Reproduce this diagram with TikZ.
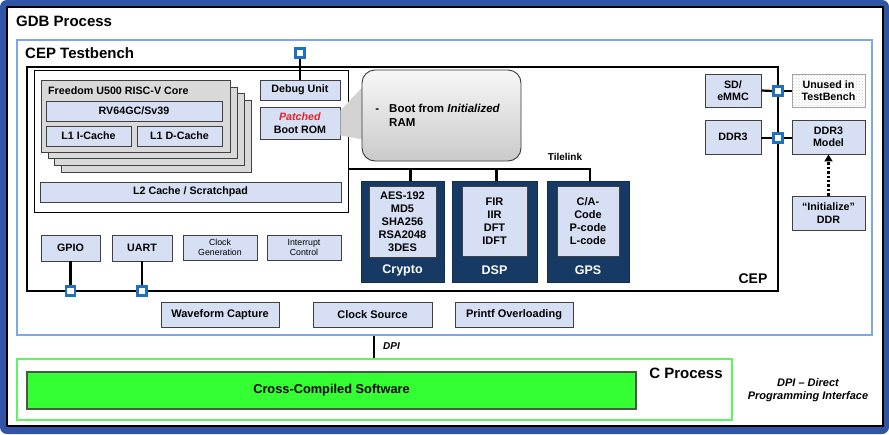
\documentclass[tikz,border=0pt]{standalone}
\usepackage{fontspec}
\setmainfont{Liberation Sans}
\usetikzlibrary{arrows.meta,patterns}
\definecolor{frameblue}{HTML}{2F55A4}
\definecolor{tbblue}{HTML}{7EA6EE}
\definecolor{boxfill}{HTML}{D6DFF3}
\definecolor{boxline}{HTML}{404040}
\definecolor{navy}{HTML}{163A63}
\definecolor{portblue}{HTML}{1F70C1}
\definecolor{cgreen}{HTML}{5EF55E}
\definecolor{swgreen}{HTML}{33FF33}
\definecolor{swline}{HTML}{3F5F3F}
\definecolor{stackfill}{HTML}{D9D9D9}
\definecolor{patchred}{HTML}{E8202A}
\newcommand\bx[7]{\node[#6, minimum width={(#4)-(#2)}, minimum height={(#5)-(#3)}] (#1) at ({((#2)+(#4))/2},{((#3)+(#5))/2}) {#7};}
\begin{document}
\begin{tikzpicture}[x=1pt,y=-1pt,
  fbox/.style={draw=boxline, fill=boxfill, line width=0.9pt, inner sep=1pt, align=center, font=\fontsize{10.7}{12.5}\selectfont\bfseries},
  sbox/.style={fbox, font=\fontsize{8.8}{10.5}\selectfont},
  mbox/.style={fbox, font=\fontsize{11}{12}\selectfont\bfseries},
  ibox/.style={fbox, font=\fontsize{11}{13}\selectfont\bfseries},
  stackbox/.style={draw=boxline, fill=stackfill, line width=0.9pt, inner sep=0pt},
  navybox/.style={fill=navy, draw=navy!80!black, line width=0.8pt, inner sep=0pt},
  navylbl/.style={text=white, font=\fontsize{12.5}{14}\selectfont\bfseries},
  port/.style={draw=portblue, fill=white, line width=2.2pt, minimum size=9pt, inner sep=0pt},
  bus/.style={line width=2.2pt, black},
  title/.style={font=\fontsize{15}{17}\selectfont\bfseries, inner sep=0pt},
  empty/.style={inner sep=0pt}
]
\useasboundingbox (0,0) rectangle (889,434);
% GDB frame
\fill[frameblue, rounded corners=7pt] (0,0) rectangle (889,434);
\bx{gdb}{7}{7}{883}{426}{empty, draw=black, line width=2pt, fill=white}{}
\node[title, anchor=west] (gdbl) at (16,21) {GDB Process};
% Testbench
\bx{tb}{17}{40}{872}{335}{empty, draw=tbblue, line width=2.2pt}{}
\node[title, anchor=west] (tbl) at (25,53) {CEP Testbench};
% CEP
\bx{cep}{27}{67}{778}{291}{empty, draw=black, line width=2.2pt}{}
\node[font=\fontsize{14}{16}\selectfont\bfseries, inner sep=0pt] (cepl) at (753,279) {CEP};
% core complex
\bx{cc}{34}{70}{348}{212}{empty, draw=black, line width=0.8pt, fill=white}{}
\bx{stack3}{61}{100}{251}{172}{stackbox}{}
\bx{stack2}{54}{93}{244}{165}{stackbox}{}
\bx{stack1}{48}{87}{237}{158}{stackbox}{}
\bx{core}{41}{80}{230}{152}{stackbox}{}
\node[anchor=west, font=\fontsize{10.7}{12}\selectfont\bfseries, inner sep=0pt] (corel) at (48,91) {Freedom U500 RISC-V Core};
\bx{rv}{46}{101}{222}{121}{fbox}{RV64GC/Sv39}
\bx{l1i}{46}{126}{131}{146}{fbox}{L1 I-Cache}
\bx{l1d}{137}{126}{222}{146}{fbox}{L1 D-Cache}
\bx{dbg}{260}{80}{340}{100}{fbox}{Debug Unit}
\bx{brom}{260}{107}{340}{139}{fbox}{\textcolor{patchred}{\textit{Patched}}\\Boot ROM}
\bx{l2}{40}{182}{341}{202}{fbox}{L2 Cache / Scratchpad}
% callout
\bx{callout}{362}{70}{521}{161}{empty, draw=none}{}
\fill[gray!35] ([yshift=-4pt]brom.north east) -- ([yshift=-18pt]callout.north west) -- ([yshift=22pt]callout.south west) -- ([yshift=4pt]brom.south east) -- cycle;
\bx{calloutbox}{362}{70}{521}{161}{empty, draw=gray!45!black, line width=0.9pt, rounded corners=13pt, top color=gray!6, bottom color=gray!42}{}
\node[anchor=west, align=left, font=\fontsize{11.5}{14}\selectfont\bfseries, inner sep=0pt] (calltext) at (372,115) {\makebox[17pt][l]{\ -}Boot from \textit{Initialized}\\\hspace*{17pt}RAM};
% accelerators
\bx{crypto}{361}{181}{444}{282}{navybox}{}
\bx{cryptoin}{369}{186}{436}{257}{ibox}{AES-192\\MD5\\SHA256\\RSA2048\\3DES}
\node[navylbl] (cryptol) at (402.5,270) {Crypto};
\bx{dsp}{452}{181}{537}{282}{navybox}{}
\bx{dspin}{462}{186}{527}{256}{ibox}{FIR\\IIR\\DFT\\IDFT}
\node[navylbl] (dspl) at (494.5,270) {DSP};
\bx{gps}{547}{181}{629}{282}{navybox}{}
\bx{gpsin}{557}{186}{619}{256}{ibox}{C/A-\\Code\\P-code\\L-code}
\node[navylbl] (gpsl) at (588,270) {GPS};
% tilelink bus
\coordinate (busy) at (0,169);
\draw[bus] (cc.east |- busy) -- ([xshift=2pt]gps.north |- busy) -- ([xshift=2pt]gps.north);
\draw[bus] ([xshift=8pt]crypto.north |- busy) -- ([xshift=8pt]crypto.north);
\draw[bus] ([xshift=2pt]dsp.north |- busy) -- ([xshift=2pt]dsp.north);
\node[font=\fontsize{10}{12}\selectfont\bfseries, inner sep=0pt] (tll) at (565,157) {Tilelink};
% peripherals
\bx{gpio}{41}{235}{100}{261}{fbox}{GPIO}
\bx{uart}{112}{235}{172}{261}{fbox}{UART}
\bx{clkgen}{183}{235}{257}{260}{sbox}{Clock\\Generation}
\bx{intc}{267}{235}{341}{260}{sbox}{Interrupt\\Control}
% memory side
\bx{sd}{705}{74}{761}{107}{fbox}{SD/\\eMMC}
\bx{ddr}{705}{120}{761}{154}{fbox}{DDR3}
\bx{unused}{792}{74}{865}{107}{fbox, draw=gray!70, preaction={fill=white}, pattern=crosshatch dots, pattern color=gray!35}{Unused in\\TestBench}
\bx{ddrm}{792}{120}{865}{154}{fbox}{DDR3\\Model}
\bx{init}{792}{196}{865}{230}{fbox}{“Initialize”\\DDR}
% ports and links
\node[port] (pdbg) at (300,53) {};
\node[port] (psd) at (778,91) {};
\node[port] (pddr) at (778,138) {};
\node[port] (pgpio) at (70.5,291) {};
\node[port] (puart) at (142,291) {};
\draw[bus] (pdbg.south) -- (dbg.north);
\draw[bus] (gpio.south) -- (pgpio.north);
\draw[bus] (uart.south) -- (puart.north);
\draw[bus] (sd.east) -- (psd.west);
\draw[bus] (psd.east) -- (unused.west |- psd.east);
\draw[bus] (ddr.east |- pddr.west) -- (pddr.west);
\draw[bus] (pddr.east) -- (ddrm.west |- pddr.east);
\node[port] at (pdbg) {};
\node[port] at (psd) {};
\node[port] at (pddr) {};
\node[port] at (pgpio) {};
\node[port] at (puart) {};
\draw[line width=2.4pt, dash pattern=on 2.4pt off 2pt, -{Triangle[width=8pt,length=7pt]}] (init.north) -- (ddrm.south);
% testbench utilities
\bx{wave}{161}{302}{279}{327}{mbox}{Waveform Capture}
\bx{clksrc}{313}{302}{432}{327}{mbox}{Clock Source}
\bx{printf}{455}{302}{573}{327}{mbox}{Printf Overloading}
% C process
\bx{cproc}{17}{359}{732}{420}{empty, draw=cgreen, line width=2.4pt}{}
\node[title] (cprocl) at (686,373) {C Process};
\bx{sw}{27}{372}{636}{409}{empty, fill=swgreen, draw=swline, line width=1.2pt, font=\fontsize{12.8}{14}\selectfont\bfseries}{Cross-Compiled Software}
% DPI
\coordinate (dpix) at (374,0);
\draw[bus] (tb.south -| dpix) -- (cproc.north -| dpix);
\node[anchor=west, font=\fontsize{10}{12}\selectfont\bfseries\itshape, inner sep=0pt] (dpil) at (383,346) {DPI};
\node[align=center, font=\fontsize{11}{13}\selectfont\bfseries\itshape, inner sep=0pt] (dpileg) at (808,390) {DPI – Direct\\Programming Interface};
\end{tikzpicture}
\end{document}
